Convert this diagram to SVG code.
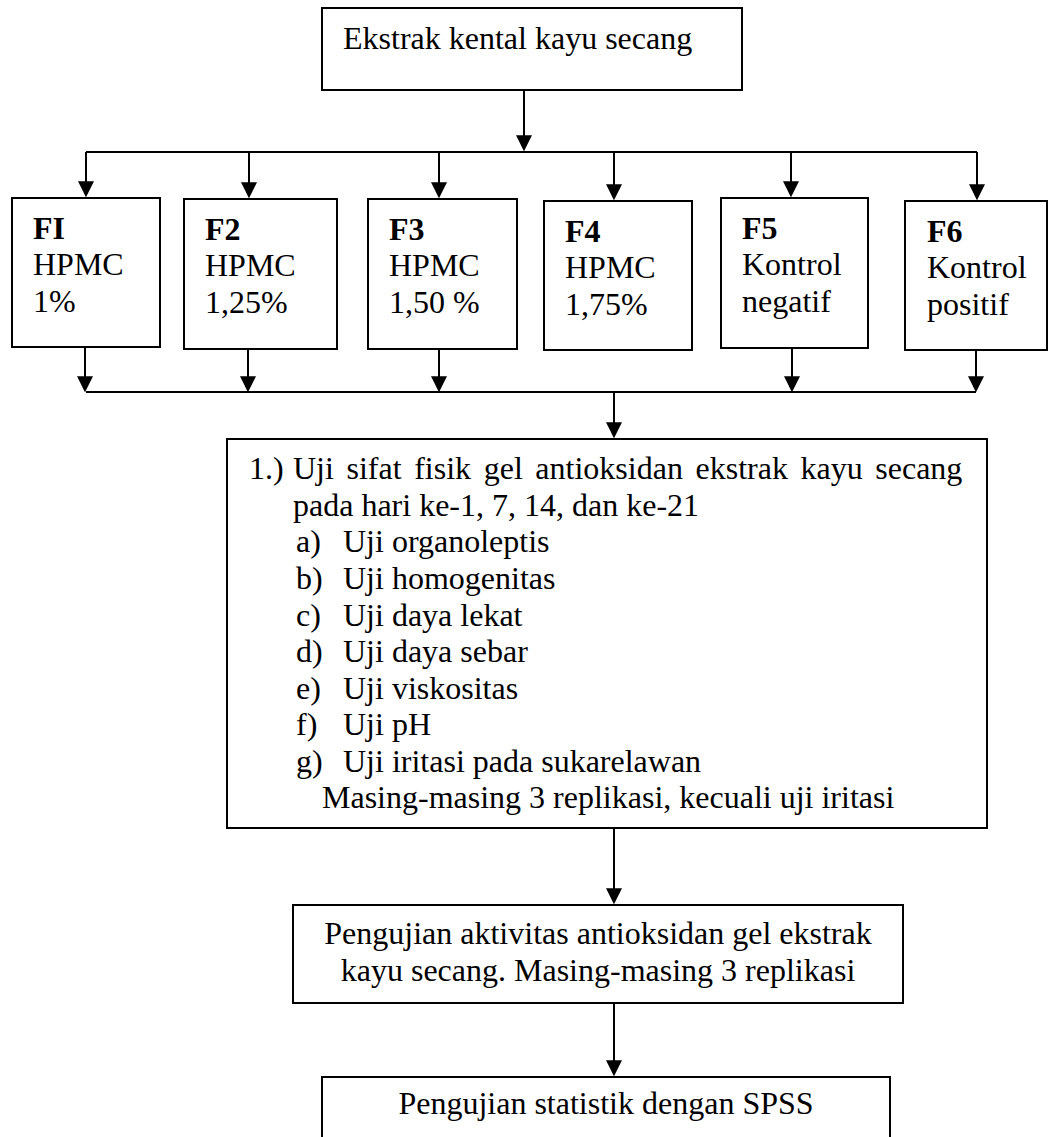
<svg xmlns="http://www.w3.org/2000/svg" width="1048" height="1137" viewBox="0 0 1048 1137">
<style>
  .box { fill: #fff; stroke: #000; stroke-width: 2; }
  .t { font-family: "Liberation Serif", "Times New Roman", serif; font-size: 32px; fill: #000; }
  .b { font-weight: bold; }
  .c { text-anchor: middle; }
  .ln { fill: none; stroke: #000; stroke-width: 2; }
  .ar { fill: none; stroke: #000; stroke-width: 2; marker-end: url(#ah); }
</style>
<defs>
  <marker id="ah" markerUnits="userSpaceOnUse" markerWidth="16" markerHeight="16" viewBox="0 0 15 15" refX="10" refY="7.5" orient="auto">
    <path d="M0,0 L15,7.5 L0,15 z" fill="#000"/>
  </marker>
</defs>
<rect width="1048" height="1137" fill="#fff"/>

<g id="connectors">
  <line class="ar" x1="524" y1="90" x2="524" y2="146"/>
  <line class="ln" x1="86" y1="152" x2="977" y2="152"/>
  <line class="ar" x1="86" y1="152" x2="86" y2="192"/>
  <line class="ar" x1="249" y1="152" x2="249" y2="193"/>
  <line class="ar" x1="439" y1="152" x2="439" y2="193"/>
  <line class="ar" x1="614" y1="152" x2="614" y2="195"/>
  <line class="ar" x1="791" y1="152" x2="791" y2="192"/>
  <line class="ar" x1="977" y1="152" x2="977" y2="195"/>

  <line class="ar" x1="85" y1="347" x2="85" y2="387"/>
  <line class="ar" x1="248" y1="349" x2="248" y2="387"/>
  <line class="ar" x1="439" y1="349" x2="439" y2="387"/>
  <line class="ar" x1="792" y1="348" x2="792" y2="387"/>
  <line class="ar" x1="976" y1="350" x2="976" y2="387"/>
  <line class="ln" x1="86" y1="392" x2="976" y2="392"/>

  <line class="ar" x1="614" y1="392" x2="614" y2="433"/>
  <line class="ar" x1="614" y1="828" x2="614" y2="899"/>
  <line class="ar" x1="614" y1="1003" x2="614" y2="1071"/>
</g>

<g id="n_top">
  <rect class="box" x="322" y="8" width="420" height="82"/>
  <text class="t" x="343" y="49">Ekstrak kental kayu secang</text>
</g>

<g id="n_f1">
  <rect class="box" x="12" y="198" width="148" height="149"/>
  <text class="t b" x="33" y="239">FI</text>
  <text class="t" x="33" y="275">HPMC</text>
  <text class="t" x="33" y="312">1%</text>
</g>
<g id="n_f2">
  <rect class="box" x="184" y="199" width="153" height="150"/>
  <text class="t b" x="205" y="240">F2</text>
  <text class="t" x="205" y="276">HPMC</text>
  <text class="t" x="205" y="313">1,25%</text>
</g>
<g id="n_f3">
  <rect class="box" x="368" y="199" width="149" height="150"/>
  <text class="t b" x="389" y="240">F3</text>
  <text class="t" x="389" y="276">HPMC</text>
  <text class="t" x="389" y="313">1,50 %</text>
</g>
<g id="n_f4">
  <rect class="box" x="544" y="201" width="148" height="149"/>
  <text class="t b" x="565" y="242">F4</text>
  <text class="t" x="565" y="278">HPMC</text>
  <text class="t" x="565" y="315">1,75%</text>
</g>
<g id="n_f5">
  <rect class="box" x="721" y="198" width="147" height="150"/>
  <text class="t b" x="742" y="239">F5</text>
  <text class="t" x="742" y="275">Kontrol</text>
  <text class="t" x="742" y="312">negatif</text>
</g>
<g id="n_f6">
  <rect class="box" x="905" y="201" width="142" height="149"/>
  <text class="t b" x="927" y="242">F6</text>
  <text class="t" x="927" y="278">Kontrol</text>
  <text class="t" x="927" y="315">positif</text>
</g>

<g id="n_uji">
  <rect class="box" x="227" y="439" width="760" height="389"/>
  <text class="t" x="249" y="479">1.)</text>
  <text class="t" x="293" y="479" word-spacing="4.6">Uji sifat fisik gel antioksidan ekstrak kayu secang</text>
  <text class="t" x="293" y="516">pada hari ke-1, 7, 14, dan ke-21</text>
  <text class="t" x="296" y="552">a)</text><text class="t" x="343" y="552">Uji organoleptis</text>
  <text class="t" x="296" y="589">b)</text><text class="t" x="343" y="589">Uji homogenitas</text>
  <text class="t" x="296" y="626">c)</text><text class="t" x="343" y="626">Uji daya lekat</text>
  <text class="t" x="296" y="662">d)</text><text class="t" x="343" y="662">Uji daya sebar</text>
  <text class="t" x="296" y="699">e)</text><text class="t" x="343" y="699">Uji viskositas</text>
  <text class="t" x="296" y="735">f)</text><text class="t" x="343" y="735">Uji pH</text>
  <text class="t" x="296" y="772">g)</text><text class="t" x="343" y="772">Uji iritasi pada sukarelawan</text>
  <text class="t" x="322" y="808">Masing-masing 3 replikasi, kecuali uji iritasi</text>
</g>

<g id="n_antiox">
  <rect class="box" x="293" y="905" width="610" height="98"/>
  <text class="t c" x="598" y="944">Pengujian aktivitas antioksidan gel ekstrak</text>
  <text class="t c" x="598" y="981">kayu secang. Masing-masing 3 replikasi</text>
</g>

<g id="n_spss">
  <rect class="box" x="322" y="1077" width="568" height="80"/>
  <text class="t c" x="606" y="1114">Pengujian statistik dengan SPSS</text>
</g>
</svg>
